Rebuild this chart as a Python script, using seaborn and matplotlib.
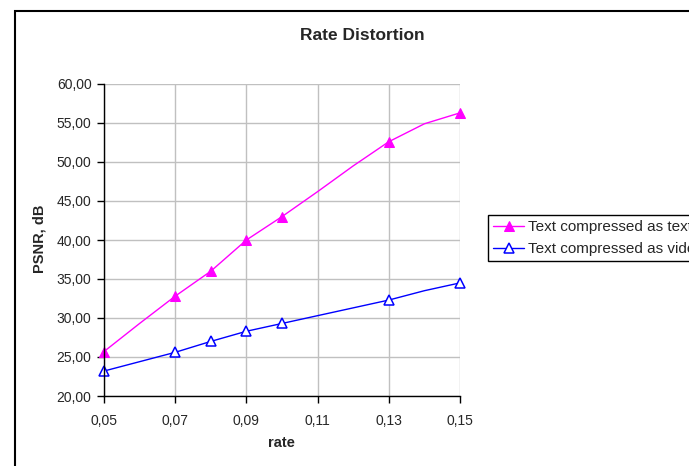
import matplotlib
matplotlib.use("Agg")
import matplotlib.pyplot as plt
import matplotlib.patches as patches
from matplotlib.ticker import FuncFormatter
import seaborn as sns
import pandas as pd

# ---- data ----
rate = [0.05, 0.06, 0.07, 0.08, 0.09, 0.10, 0.11, 0.12, 0.13, 0.14, 0.15]
psnr_text = [25.7, 29.3, 32.8, 36.0, 40.0, 43.0, 46.2, 49.5, 52.6, 54.9, 56.3]
psnr_video = [23.2, 24.4, 25.6, 27.0, 28.3, 29.3, 30.3, 31.3, 32.3, 33.5, 34.5]
marked = [0, 2, 3, 4, 5, 8, 10]
labels = ["Text compressed as text", "Text compressed as video"]
xticks = [0.05, 0.07, 0.09, 0.11, 0.13, 0.15]
yticks = [20, 25, 30, 35, 40, 45, 50, 55, 60]

sns.set_style("white")
plt.rcParams["font.family"] = ["Liberation Sans", "DejaVu Sans"]

df = pd.DataFrame({
    "rate": rate * 2,
    "psnr": psnr_text + psnr_video,
    "series": [labels[0]] * len(rate) + [labels[1]] * len(rate),
})

fig = plt.figure(figsize=(6.89, 4.66), dpi=100)
ax = fig.add_axes([104 / 689, 1 - 396 / 466, (460 - 104) / 689, (396 - 84) / 466])

sns.lineplot(data=df[df.series == labels[0]], x="rate", y="psnr", ax=ax,
             color="#FF00FF", lw=1.0, marker="^", markevery=marked, markersize=7,
             markerfacecolor="#FF00FF", markeredgecolor="#FF00FF", label=labels[0],
             clip_on=False)
sns.lineplot(data=df[df.series == labels[1]], x="rate", y="psnr", ax=ax,
             color="#0000FF", lw=1.0, marker="^", markevery=marked, markersize=7,
             markerfacecolor="white", markeredgecolor="#0000FF", markeredgewidth=1.1,
             label=labels[1], clip_on=False)

ax.set_xlim(0.05, 0.15)
ax.set_ylim(20, 60)
ax.set_xticks(xticks)
ax.set_yticks(yticks)
ax.xaxis.set_major_formatter(FuncFormatter(lambda v, p: f"{v:.2f}".replace(".", ",")))
ax.yaxis.set_major_formatter(FuncFormatter(lambda v, p: f"{v:.2f}".replace(".", ",")))
ax.tick_params(axis="both", direction="out", length=5, width=1, color="black",
               labelsize=10, pad=4, bottom=True, left=True)
ax.tick_params(axis="x", pad=8)
ax.grid(True, color="#c0c0c0", lw=1)
ax.set_axisbelow(True)
for s in ["top", "right"]:
    ax.spines[s].set_visible(False)
for s in ["left", "bottom"]:
    ax.spines[s].set_color("black")
    ax.spines[s].set_linewidth(1)
ax.set_xlabel("")
ax.set_ylabel("")

fig.text(362 / 689, 1 - 35 / 466, "Rate Distortion", ha="center", va="center",
         fontsize=12.5, fontweight="bold")
fig.text(281 / 689, 1 - 443 / 466, "rate", ha="center", va="center",
         fontsize=10.5, fontweight="bold")
fig.text(39 / 689, 1 - 239 / 466, "PSNR, dB", ha="center", va="center",
         rotation=90, fontsize=10.5, fontweight="bold")

leg = ax.legend(loc="upper left", bbox_to_anchor=(488 / 689, 1 - 215 / 466),
                bbox_transform=fig.transFigure, fontsize=11, frameon=True,
                fancybox=False, edgecolor="black", framealpha=1,
                borderaxespad=0, handlelength=2.0, handletextpad=0.3,
                labelspacing=0.5, borderpad=0.35)
leg.get_frame().set_linewidth(1)

fig.patches.append(patches.Rectangle((15 / 689, -0.1), 1.2, 1 - 11 / 466 + 0.1,
                                     transform=fig.transFigure, fill=False,
                                     edgecolor="black", lw=1.5))

fig.savefig("out.png", dpi=100)
